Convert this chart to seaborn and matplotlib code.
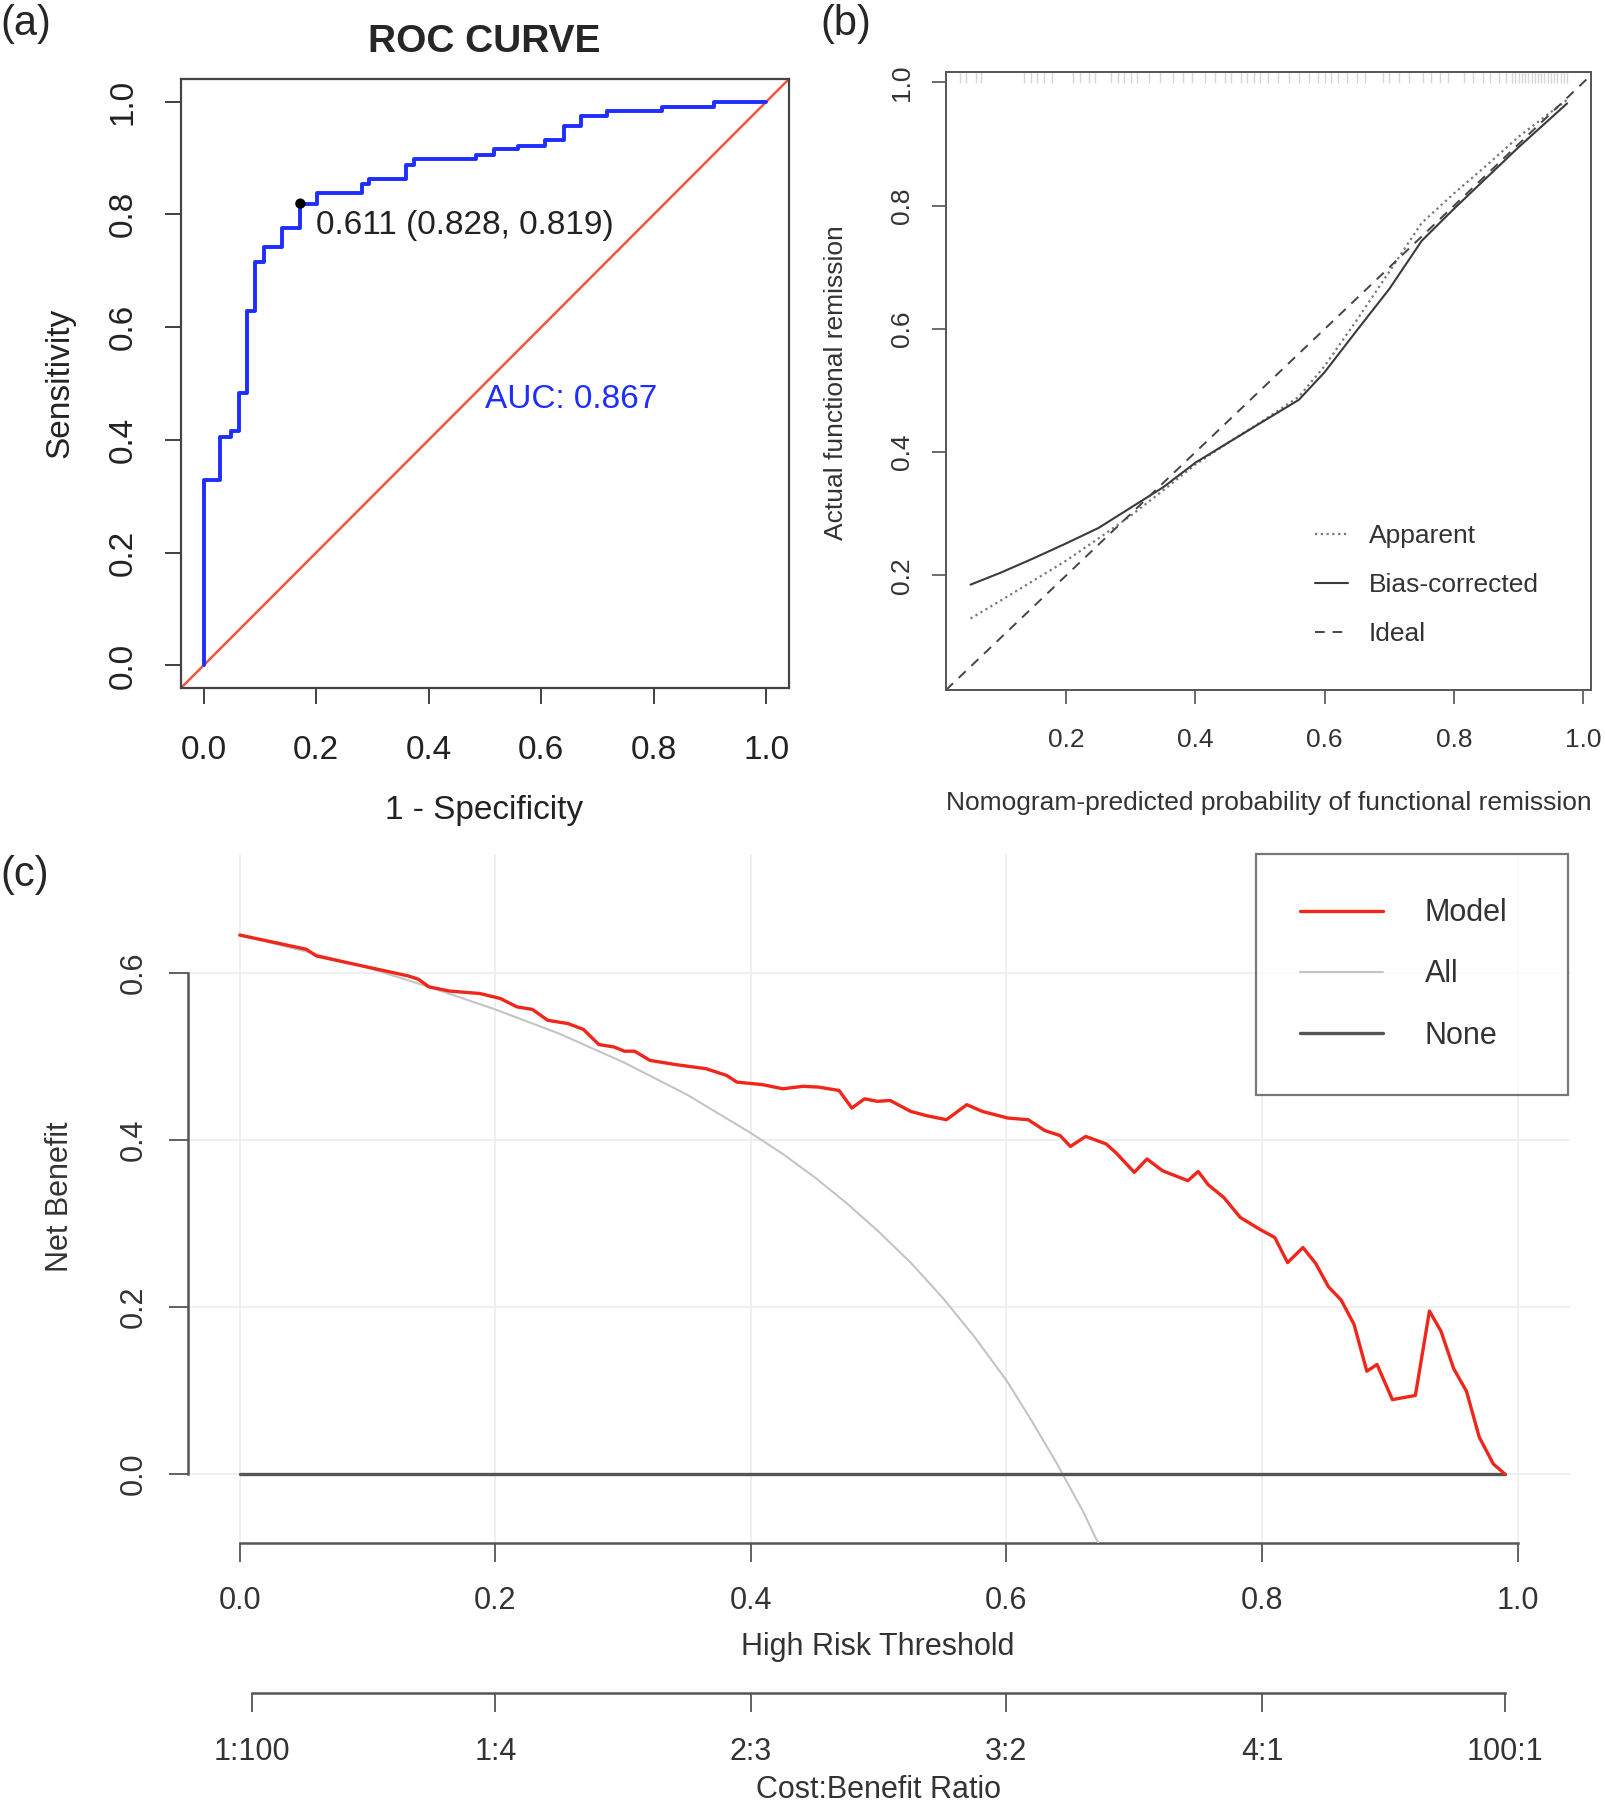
import numpy as np
import pandas as pd
import matplotlib
matplotlib.use("Agg")
import matplotlib.pyplot as plt
import seaborn as sns

# ---- (a) ROC curve: 1-specificity where sensitivity steps up, and the new sensitivity
roc_fpr = [0.0, 0.030, 0.048, 0.063, 0.078, 0.091, 0.107, 0.140, 0.172, 0.202, 0.281, 0.294,
           0.360, 0.373, 0.484, 0.516, 0.559, 0.607, 0.640, 0.670, 0.717, 0.814, 0.907]
roc_tpr = [0.328, 0.406, 0.415, 0.484, 0.629, 0.716, 0.742, 0.775, 0.819, 0.838, 0.854, 0.863,
           0.887, 0.899, 0.906, 0.915, 0.922, 0.931, 0.957, 0.975, 0.983, 0.990, 1.0]
best_fpr, best_tpr = 0.172, 0.819
best_label = "0.611 (0.828, 0.819)"
auc_label = "AUC: 0.867"

# ---- (b) calibration curves
cal_pred = [0.052, 0.10, 0.15, 0.20, 0.25, 0.30, 0.35, 0.40, 0.45, 0.50, 0.56, 0.60, 0.65, 0.70,
            0.75, 0.80, 0.85, 0.90, 0.975]
cal_apparent = [0.130, 0.160, 0.192, 0.224, 0.260, 0.297, 0.338, 0.380, 0.415, 0.448, 0.490, 0.540,
                0.615, 0.693, 0.772, 0.820, 0.865, 0.912, 0.972]
cal_bias = [0.185, 0.205, 0.228, 0.252, 0.277, 0.310, 0.343, 0.383, 0.415, 0.447, 0.485, 0.530,
            0.598, 0.665, 0.743, 0.795, 0.845, 0.895, 0.966]
rug_pred = [0.035, 0.045, 0.06, 0.068, 0.135, 0.145, 0.155, 0.165, 0.178, 0.21, 0.222, 0.235, 0.245,
            0.27, 0.28, 0.29, 0.30, 0.31, 0.328, 0.345, 0.365, 0.38, 0.395, 0.415, 0.43, 0.445, 0.455,
            0.47, 0.48, 0.49, 0.50, 0.512, 0.528, 0.545, 0.56, 0.575, 0.59, 0.60, 0.61, 0.62, 0.635,
            0.65, 0.662, 0.69, 0.70, 0.715, 0.73, 0.752, 0.765, 0.778, 0.79, 0.815, 0.83, 0.845, 0.855,
            0.87, 0.88, 0.89, 0.895, 0.90, 0.905, 0.91, 0.915, 0.92, 0.925, 0.93, 0.935, 0.94, 0.945,
            0.95, 0.955, 0.96, 0.965, 0.97, 0.975]

# ---- (c) decision curve
dca_thr = [0.0, 0.052, 0.06, 0.132, 0.14, 0.148, 0.164, 0.188, 0.204, 0.217, 0.229, 0.241, 0.257,
           0.269, 0.281, 0.293, 0.301, 0.309, 0.321, 0.341, 0.365, 0.381, 0.389, 0.409, 0.425, 0.441,
           0.453, 0.469, 0.479, 0.489, 0.499, 0.509, 0.525, 0.537, 0.553, 0.569, 0.581, 0.601, 0.617,
           0.630, 0.642, 0.650, 0.662, 0.678, 0.686, 0.700, 0.710, 0.722, 0.732, 0.742, 0.750, 0.758,
           0.770, 0.783, 0.798, 0.810, 0.820, 0.832, 0.842, 0.852, 0.862, 0.872, 0.882, 0.890, 0.902,
           0.920, 0.931, 0.940, 0.950, 0.960, 0.970, 0.981, 0.990]
nb_model = [0.645, 0.628, 0.620, 0.596, 0.592, 0.583, 0.578, 0.575, 0.569, 0.559, 0.556, 0.543, 0.539,
            0.532, 0.514, 0.511, 0.506, 0.506, 0.495, 0.490, 0.485, 0.477, 0.469, 0.466, 0.461, 0.464,
            0.463, 0.459, 0.438, 0.449, 0.446, 0.447, 0.434, 0.429, 0.424, 0.442, 0.434, 0.426, 0.424,
            0.411, 0.405, 0.392, 0.404, 0.395, 0.384, 0.361, 0.377, 0.363, 0.357, 0.351, 0.362, 0.346,
            0.331, 0.307, 0.293, 0.283, 0.253, 0.271, 0.252, 0.224, 0.208, 0.179, 0.123, 0.131, 0.089,
            0.094, 0.195, 0.171, 0.126, 0.099, 0.044, 0.012, 0.000]
all_thr = [0.0, 0.05, 0.10, 0.15, 0.20, 0.25, 0.30, 0.35, 0.40, 0.425, 0.45, 0.475, 0.50, 0.525,
           0.55, 0.575, 0.60, 0.62, 0.64, 0.66, 0.68]
nb_all = [0.645, 0.626, 0.606, 0.582, 0.556, 0.527, 0.493, 0.454, 0.408, 0.383, 0.355, 0.324, 0.290,
          0.253, 0.211, 0.164, 0.112, 0.063, 0.011, -0.045, -0.109]
none_thr = [0.0, 0.99]
nb_none = [0.0, 0.0]
cb_pos = [0.0099, 0.2, 0.4, 0.6, 0.8, 0.990]
cb_labels = ["1:100", "1:4", "2:3", "3:2", "4:1", "100:1"]

sns.set_style("white")
plt.rcParams["font.family"] = ["Liberation Sans", "DejaVu Sans"]

W, H = 1605, 1804
fig = plt.figure(figsize=(W / 100, H / 100), dpi=100)


def box(l, t, r, b):
    return [l / W, 1 - b / H, (r - l) / W, (b - t) / H]


ax_a = fig.add_axes(box(181, 79, 789, 688))
ax_b = fig.add_axes(box(946, 72, 1591, 690))
ax_c = fig.add_axes(box(188, 854, 1570, 1543))

# ================= (a) =================
rx, ry = [0.0], [0.0]
for f, t, e in zip(roc_fpr, roc_tpr, roc_fpr[1:] + [1.0]):
    rx += [f, e]
    ry += [t, t]
roc_df = pd.DataFrame({"fpr": rx, "tpr": ry})

ax_a.axline((0, 0), (1, 1), color="#F2553F", lw=1.8, zorder=1)
sns.lineplot(data=roc_df, x="fpr", y="tpr", sort=False, estimator=None, color="#1E2EFF",
             lw=2.8, ax=ax_a, legend=False, zorder=2)
sns.scatterplot(x=[best_fpr], y=[best_tpr], color="black", s=55, ax=ax_a, zorder=4,
                edgecolor="none", legend=False)
ax_a.text(best_fpr + 0.027, best_tpr - 0.039, best_label, fontsize=24, va="center", color="#222222")
ax_a.text(0.5, 0.472, auc_label, fontsize=24, va="center", color="#1E2EFF")

ticks = [0.0, 0.2, 0.4, 0.6, 0.8, 1.0]
tlabels = ["0.0", "0.2", "0.4", "0.6", "0.8", "1.0"]
ax_a.set_xlim(-0.04, 1.04)
ax_a.set_ylim(-0.04, 1.04)
ax_a.set_xticks(ticks, tlabels)
ax_a.set_yticks(ticks, tlabels, rotation=90, va="center")
ax_a.tick_params(axis="both", length=11.5, width=1.3, color="#333333", labelsize=24,
                 labelcolor="#222222", bottom=True, left=True)
ax_a.tick_params(axis="x", pad=22)
ax_a.tick_params(axis="y", pad=19)
ax_a.set_xlabel("")
ax_a.set_ylabel("")
for s in ax_a.spines.values():
    s.set_color("#444444")
    s.set_linewidth(1.6)

fig.text(484 / W, 1 - 42 / H, "ROC CURVE", fontsize=28, weight="bold", ha="center", va="center")
fig.text(484 / W, 1 - 811 / H, "1 - Specificity", fontsize=24, ha="center", va="center", color="#222222")
fig.text(60 / W, 1 - 383 / H, "Sensitivity", fontsize=24, ha="center", va="center", rotation=90,
         color="#222222")

# ================= (b) =================
cal_df = pd.DataFrame({"pred": cal_pred, "apparent": cal_apparent, "bias": cal_bias})
sns.lineplot(data=cal_df, x="pred", y="apparent", sort=False, estimator=None, color="#777777",
             lw=1.6, linestyle=(0, (1, 1.6)), ax=ax_b, label="Apparent")
sns.lineplot(data=cal_df, x="pred", y="bias", sort=False, estimator=None, color="#3A3A3A",
             lw=1.5, ax=ax_b, label="Bias-corrected")
ax_b.axline((0, 0), (1, 1), color="#444444", lw=1.4, linestyle=(0, (5, 4)), label="Ideal")
ax_b.vlines(rug_pred, 0.982, 1.0, transform=ax_b.get_xaxis_transform(), color="#D6D6D6", lw=1)

ax_b.set_xlim(0.014, 1.012)
ax_b.set_ylim(0.014, 1.017)
bt = [0.2, 0.4, 0.6, 0.8, 1.0]
bl = ["0.2", "0.4", "0.6", "0.8", "1.0"]
ax_b.set_xticks(bt, bl)
ax_b.set_yticks(bt, bl, rotation=90, va="center")
ax_b.tick_params(axis="both", length=10, width=1.1, color="#444444", labelsize=19,
                 labelcolor="#333333", bottom=True, left=True)
ax_b.tick_params(axis="x", pad=17)
ax_b.tick_params(axis="y", pad=13)
ax_b.set_xlabel("")
ax_b.set_ylabel("")
for s in ax_b.spines.values():
    s.set_color("#555555")
    s.set_linewidth(1.4)
ax_b.legend(loc="upper left", bbox_to_anchor=(1315 / W, 1 - 524 / H), bbox_transform=fig.transFigure,
            frameon=False, fontsize=19, handlelength=1.25, handletextpad=0.8, labelspacing=0.95,
            borderpad=0, borderaxespad=0, labelcolor="#333333")

fig.text(1269 / W, 1 - 803 / H, "Nomogram-predicted probability of functional remission", fontsize=19,
         ha="center", va="center", color="#333333")
fig.text(836 / W, 1 - 383 / H, "Actual functional remission", fontsize=19, ha="center", va="center",
         rotation=90, color="#333333")

# ================= (c) =================
ax_c.grid(True, color="#EDEDED", lw=1.2)
ax_c.set_axisbelow(True)
model_df = pd.DataFrame({"thr": dca_thr, "nb": nb_model})
all_df = pd.DataFrame({"thr": all_thr, "nb": nb_all})
none_df = pd.DataFrame({"thr": none_thr, "nb": nb_none})
sns.lineplot(data=model_df, x="thr", y="nb", sort=False, estimator=None, color="#F0261B", lw=2.4,
             ax=ax_c, label="Model", zorder=4)
sns.lineplot(data=all_df, x="thr", y="nb", sort=False, estimator=None, color="#C4C4C4", lw=1.5,
             ax=ax_c, label="All", zorder=3)
sns.lineplot(data=none_df, x="thr", y="nb", sort=False, estimator=None, color="#555555", lw=2.4,
             ax=ax_c, label="None", zorder=3)

ax_c.set_xlim(-0.0405, 1.041)
ax_c.set_ylim(-0.0826, 0.742)
ax_c.set_xticks(ticks, tlabels)
ax_c.set_yticks([0.0, 0.2, 0.4, 0.6], ["0.0", "0.2", "0.4", "0.6"], rotation=90, va="center")
ax_c.tick_params(axis="both", length=14, width=1.3, color="#555555", labelsize=22,
                 labelcolor="#333333", bottom=True, left=True)
ax_c.tick_params(axis="x", pad=17)
ax_c.tick_params(axis="y", pad=14)
ax_c.set_xlabel("")
ax_c.set_ylabel("")
ax_c.spines["top"].set_visible(False)
ax_c.spines["right"].set_visible(False)
ax_c.spines["left"].set_bounds(0.0, 0.6)
ax_c.spines["bottom"].set_bounds(0.0, 1.0)
for side in ["left", "bottom"]:
    ax_c.spines[side].set_color("#555555")
    ax_c.spines[side].set_linewidth(1.8)

ax_cb = ax_c.secondary_xaxis(-0.217)
ax_cb.set_xticks(cb_pos, cb_labels)
ax_cb.tick_params(axis="x", length=14, width=1.3, color="#555555", labelsize=22,
                  labelcolor="#333333", pad=18)
ax_cb.spines["bottom"].set_bounds(cb_pos[0], cb_pos[-1])
ax_cb.spines["bottom"].set_color("#555555")
ax_cb.spines["bottom"].set_linewidth(1.8)

leg = ax_c.legend(loc="upper left", bbox_to_anchor=(1256 / W, 1 - 1096 / H, 312 / W, 242 / H),
                  bbox_transform=fig.transFigure, mode="expand", fontsize=22, handlelength=2.7,
                  handletextpad=1.37, labelspacing=1.02, borderpad=1.45, borderaxespad=0,
                  fancybox=False, frameon=True, labelcolor="#333333")
leg.get_frame().set_edgecolor("#555555")
leg.get_frame().set_linewidth(1.6)

fig.text(878 / W, 1 - 1647 / H, "High Risk Threshold", fontsize=22, ha="center", va="center",
         color="#333333")
fig.text(878 / W, 1 - 1790 / H, "Cost:Benefit Ratio", fontsize=22, ha="center", va="center",
         color="#333333")
fig.text(60 / W, 1 - 1197 / H, "Net Benefit", fontsize=22, ha="center", va="center", rotation=90,
         color="#333333")

# panel letters
fig.text(0, 1 - 24 / H, "(a)", fontsize=30, ha="left", va="center")
fig.text(820 / W, 1 - 24 / H, "(b)", fontsize=30, ha="left", va="center")
fig.text(0, 1 - 875 / H, "(c)", fontsize=30, ha="left", va="center")

fig.savefig("out.png", dpi=100)
